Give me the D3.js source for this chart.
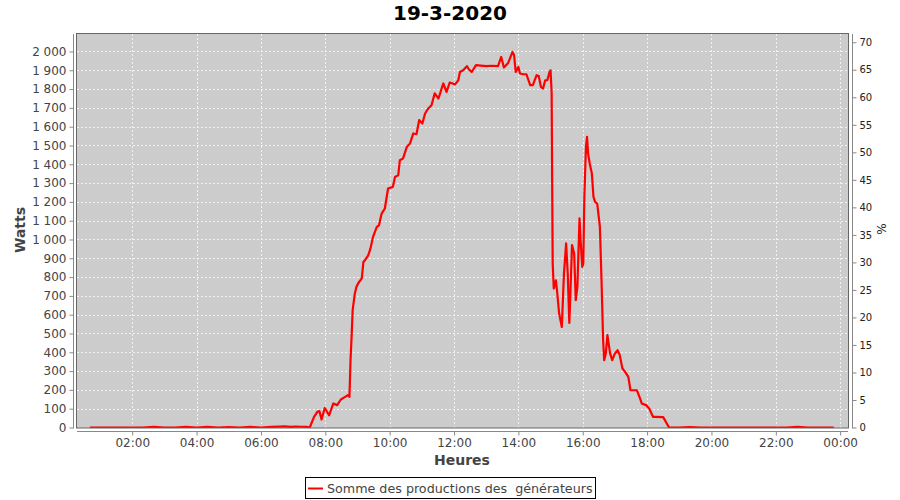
<!DOCTYPE html>
<html><head><meta charset="utf-8">
<script src="https://cdn.jsdelivr.net/npm/d3@7"></script>
<style>
html,body{margin:0;padding:0;background:#fff;}
svg{display:block;font-family:"DejaVu Sans",sans-serif;}
</style></head>
<body><svg id="c" width="900" height="500"></svg>
<script>
const chartTitle = "19-3-2020";
const seriesName = "Somme des productions des  générateurs";
const times = [
"00:41","01:00","01:20","01:40","02:00","02:20","02:40","03:00","03:20","03:40","04:00","04:20","04:40","05:00","05:20","05:40","06:00","06:20","06:35","06:45","06:55","07:05","07:15","07:25",
"07:31","07:39","07:45","07:49","07:53","07:59","08:07","08:15","08:22","08:29","08:37","08:42","08:45","08:47","08:49","08:51","08:55","08:58",
"09:02","09:08","09:11","09:14","09:20","09:24","09:29","09:36","09:40","09:45","09:51","09:57","10:06","10:10","10:16","10:19","10:25","10:32","10:38","10:44","10:50","10:55",
"11:01","11:06","11:12","11:18","11:24","11:31","11:40","11:46","11:52","12:02","12:08","12:11","12:17","12:24","12:28","12:33","12:41",
"12:50","13:00","13:10","13:22","13:28","13:33","13:41","13:49","13:52","13:55","14:00","14:03","14:09","14:15","14:22","14:27","14:34","14:38",
"14:42","14:46","14:50","14:54","14:58","15:00","15:02","15:03","15:04","15:06","15:10","15:12","15:16","15:21","15:25","15:29","15:32","15:35",
"15:37","15:40","15:44","15:47","15:50","15:54","15:56","15:59","16:01","16:03","16:06","16:08","16:10","16:13","16:17","16:20","16:23","16:27",
"16:32","16:35","16:38","16:40","16:43","16:46","16:51","16:55","17:00","17:05","17:09","17:14","17:19","17:25","17:29","17:34","17:41","17:47",
"17:50","17:58","18:04","18:11","18:15","18:30","18:41",
"19:00","19:20","19:40","20:00","20:20","20:40","21:00","21:20","21:40","22:00","22:20","22:40","23:00","23:20","23:40","23:48"
];
const watts = [
0,0,0,0,0,0,3,0,0,3,0,3,0,2,0,3,0,3,5,6,3,5,4,3,
0,57,83,87,43,104,65,128,119,149,163,172,163,358,482,624,712,748,
770,793,880,890,916,950,1014,1067,1075,1138,1165,1271,1280,1333,1342,1422,1431,1493,1511,1564,1560,1635,
1617,1670,1697,1714,1777,1750,1830,1785,1835,1825,1847,1891,1900,1922,1904,1891,1927,
1925,1922,1924,1922,1971,1915,1939,1998,1980,1891,1918,1883,1879,1879,1821,1821,1874,1869,
1812,1803,1847,1847,1891,1900,1780,1300,870,739,783,730,606,535,819,979,819,556,
713,970,926,677,748,1112,996,854,872,1227,1493,1546,1457,1404,1351,1227,1200,1191,
1067,784,464,358,394,491,394,358,394,411,385,314,296,269,198,198,198,154,
128,119,101,57,57,55,0,
0,2,0,0,0,0,0,0,0,0,0,3,0,0,0,0
];
const leftTicks = [0,100,200,300,400,500,600,700,800,900,1000,1100,1200,1300,1400,1500,1600,1700,1800,1900,2000];
const rightTicks = [0,5,10,15,20,25,30,35,40,45,50,55,60,65,70];
const xTickLabels = ["02:00","04:00","06:00","08:00","10:00","12:00","14:00","16:00","18:00","20:00","22:00","00:00"];
const yLabel = "Watts", y2Label = "%", xLabel = "Heures";

const svg = d3.select("#c");
const parse = d3.timeParse("%Y-%m-%d %H:%M");
const day = "2020-03-19 ";
const data = times.map((t,i)=>({t: parse(day+t), v: watts[i]}));

const L=77, R=848, T=34, B=427.5;
const x = d3.scaleTime().domain([parse(day+"00:17"), new Date(parse("2020-03-20 00:14").getTime()+36000)]).range([L,R]);
const y = d3.scaleLinear().domain([0,2093]).range([B,T]);
const y2 = d3.scaleLinear().domain([0,71.5]).range([B,T]);

svg.append("rect").attr("x",L).attr("y",T).attr("width",R-L).attr("height",B-T+0.5).attr("fill","#cccccc");

const xTickDates = xTickLabels.map((s,i)=> i===xTickLabels.length-1 ? parse("2020-03-20 00:00") : parse(day+s));

const grid = svg.append("g").attr("stroke","#f2f2f2").attr("stroke-width",1).attr("stroke-dasharray","2,2");
leftTicks.forEach(v=>{ if(v>0) grid.append("line").attr("x1",L).attr("x2",R).attr("y1",Math.round(y(v))+0.5).attr("y2",Math.round(y(v))+0.5); });
xTickDates.forEach(d=>{ grid.append("line").attr("y1",T).attr("y2",B).attr("x1",Math.round(x(d))+0.5).attr("x2",Math.round(x(d))+0.5); });

svg.append("clipPath").attr("id","pc").append("rect").attr("x",L).attr("y",T).attr("width",R-L).attr("height",B-T+0.5);

const line = d3.line().x(d=>x(d.t)).y(d=>y(d.v));
svg.append("path").datum(data).attr("clip-path","url(#pc)").attr("d",line)
  .attr("fill","none").attr("stroke","#ff0000").attr("stroke-width",2.2).attr("stroke-linejoin","round");

svg.append("rect").attr("x",L-0.5).attr("y",T-0.5).attr("width",R-L+1).attr("height",B-T+1).attr("fill","none").attr("stroke","#666").attr("stroke-width",1);

const gl = svg.append("g").attr("transform","translate(73.5,0)");
gl.call(d3.axisLeft(y).tickValues(leftTicks).tickSize(4).tickPadding(3).tickFormat(v=>d3.format(",")(v).replace(",", " ")));
gl.select(".domain").attr("stroke","#888").attr("d",`M0,${T}V${B+1}`);
gl.selectAll(".tick line").attr("stroke","#888");
gl.selectAll(".tick text").attr("fill","#444").attr("font-size",12).attr("font-family","DejaVu Sans");

const gr = svg.append("g").attr("transform","translate(852.5,0)");
gr.call(d3.axisRight(y2).tickValues(rightTicks).tickSize(4).tickPadding(3));
gr.select(".domain").attr("stroke","#888").attr("d",`M0,${T}V${B+1}`);
gr.selectAll(".tick line").attr("stroke","#888");
gr.selectAll(".tick text").attr("fill","#222").attr("font-size",10).attr("font-family","DejaVu Sans");

const gb = svg.append("g").attr("transform","translate(0,431.5)");
gb.call(d3.axisBottom(x).tickValues(xTickDates).tickSize(4).tickPadding(3).tickFormat((d,i)=>xTickLabels[i]));
gb.select(".domain").attr("stroke","#888").attr("d",`M${L},0H${R}`);
gb.selectAll(".tick line").attr("stroke","#888");
gb.selectAll(".tick text").attr("fill","#444").attr("font-size",12).attr("font-family","DejaVu Sans");

svg.append("text").attr("x",450).attr("y",20).attr("text-anchor","middle").attr("font-size",20).attr("font-weight","bold").attr("fill","#000").text(chartTitle);
svg.append("text").attr("transform","translate(25,230) rotate(-90)").attr("text-anchor","middle").attr("font-size",14).attr("font-weight","bold").attr("fill","#444").text(yLabel);
svg.append("text").attr("x",462).attr("y",465).attr("text-anchor","middle").attr("font-size",14).attr("font-weight","bold").attr("fill","#444").text(xLabel);
svg.append("text").attr("transform","translate(886,229) rotate(-90)").attr("text-anchor","middle").attr("font-size",12).attr("fill","#222").text(y2Label);

const lg = svg.append("g");
lg.append("rect").attr("x",305.5).attr("y",477.5).attr("width",290).attr("height",21).attr("fill","#fff").attr("stroke","#000").attr("stroke-width",1);
lg.append("line").attr("x1",308).attr("x2",323).attr("y1",488.5).attr("y2",488.5).attr("stroke","#ff0000").attr("stroke-width",2);
lg.append("text").attr("x",327).attr("y",492.5).attr("font-size",12.7).attr("fill","#444").style("white-space","pre").text(seriesName);
</script></body></html>
